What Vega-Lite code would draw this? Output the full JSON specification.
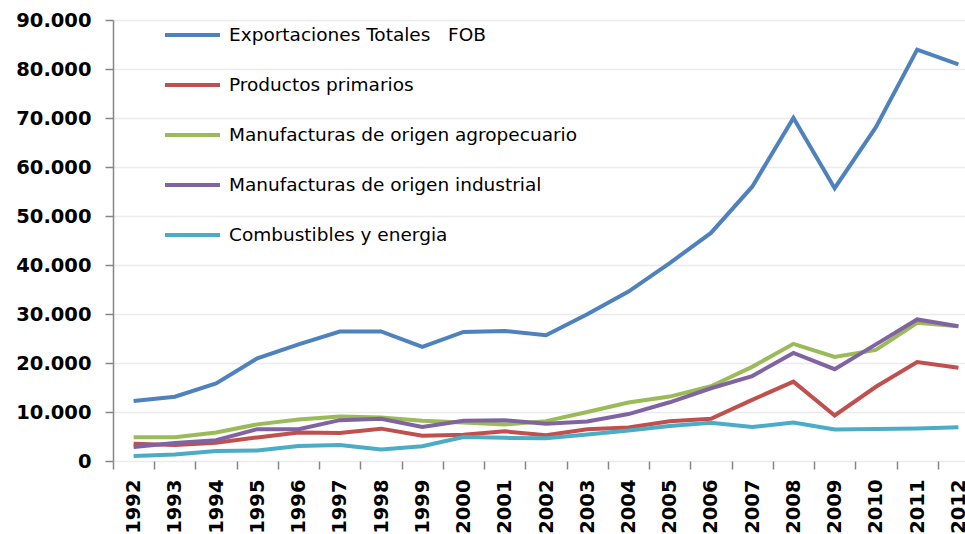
{
  "$schema": "https://vega.github.io/schema/vega-lite/v6.json",
  "autosize": {"type": "none"},
  "padding": {"left": 113, "top": 20, "right": 0, "bottom": 73},
  "width": 852,
  "height": 441,
  "background": "white",
  "config": {"view": {"stroke": null}},
  "data": {"values": [
    {"year": "1992", "serie": "Exportaciones Totales\u00a0\u00a0 FOB", "value": 12235},
    {"year": "1993", "serie": "Exportaciones Totales\u00a0\u00a0 FOB", "value": 13118},
    {"year": "1994", "serie": "Exportaciones Totales\u00a0\u00a0 FOB", "value": 15839},
    {"year": "1995", "serie": "Exportaciones Totales\u00a0\u00a0 FOB", "value": 20963},
    {"year": "1996", "serie": "Exportaciones Totales\u00a0\u00a0 FOB", "value": 23811},
    {"year": "1997", "serie": "Exportaciones Totales\u00a0\u00a0 FOB", "value": 26431},
    {"year": "1998", "serie": "Exportaciones Totales\u00a0\u00a0 FOB", "value": 26434},
    {"year": "1999", "serie": "Exportaciones Totales\u00a0\u00a0 FOB", "value": 23309},
    {"year": "2000", "serie": "Exportaciones Totales\u00a0\u00a0 FOB", "value": 26341},
    {"year": "2001", "serie": "Exportaciones Totales\u00a0\u00a0 FOB", "value": 26543},
    {"year": "2002", "serie": "Exportaciones Totales\u00a0\u00a0 FOB", "value": 25651},
    {"year": "2003", "serie": "Exportaciones Totales\u00a0\u00a0 FOB", "value": 29939},
    {"year": "2004", "serie": "Exportaciones Totales\u00a0\u00a0 FOB", "value": 34576},
    {"year": "2005", "serie": "Exportaciones Totales\u00a0\u00a0 FOB", "value": 40387},
    {"year": "2006", "serie": "Exportaciones Totales\u00a0\u00a0 FOB", "value": 46546},
    {"year": "2007", "serie": "Exportaciones Totales\u00a0\u00a0 FOB", "value": 55980},
    {"year": "2008", "serie": "Exportaciones Totales\u00a0\u00a0 FOB", "value": 70019},
    {"year": "2009", "serie": "Exportaciones Totales\u00a0\u00a0 FOB", "value": 55672},
    {"year": "2010", "serie": "Exportaciones Totales\u00a0\u00a0 FOB", "value": 68134},
    {"year": "2011", "serie": "Exportaciones Totales\u00a0\u00a0 FOB", "value": 83950},
    {"year": "2012", "serie": "Exportaciones Totales\u00a0\u00a0 FOB", "value": 80927},
    {"year": "1992", "serie": "Productos primarios", "value": 3500},
    {"year": "1993", "serie": "Productos primarios", "value": 3270},
    {"year": "1994", "serie": "Productos primarios", "value": 3740},
    {"year": "1995", "serie": "Productos primarios", "value": 4816},
    {"year": "1996", "serie": "Productos primarios", "value": 5817},
    {"year": "1997", "serie": "Productos primarios", "value": 5704},
    {"year": "1998", "serie": "Productos primarios", "value": 6603},
    {"year": "1999", "serie": "Productos primarios", "value": 5145},
    {"year": "2000", "serie": "Productos primarios", "value": 5346},
    {"year": "2001", "serie": "Productos primarios", "value": 6052},
    {"year": "2002", "serie": "Productos primarios", "value": 5272},
    {"year": "2003", "serie": "Productos primarios", "value": 6471},
    {"year": "2004", "serie": "Productos primarios", "value": 6852},
    {"year": "2005", "serie": "Productos primarios", "value": 8110},
    {"year": "2006", "serie": "Productos primarios", "value": 8625},
    {"year": "2007", "serie": "Productos primarios", "value": 12486},
    {"year": "2008", "serie": "Productos primarios", "value": 16201},
    {"year": "2009", "serie": "Productos primarios", "value": 9286},
    {"year": "2010", "serie": "Productos primarios", "value": 15145},
    {"year": "2011", "serie": "Productos primarios", "value": 20212},
    {"year": "2012", "serie": "Productos primarios", "value": 19050},
    {"year": "1992", "serie": "Manufacturas de origen agropecuario", "value": 4829},
    {"year": "1993", "serie": "Manufacturas de origen agropecuario", "value": 4837},
    {"year": "1994", "serie": "Manufacturas de origen agropecuario", "value": 5806},
    {"year": "1995", "serie": "Manufacturas de origen agropecuario", "value": 7475},
    {"year": "1996", "serie": "Manufacturas de origen agropecuario", "value": 8456},
    {"year": "1997", "serie": "Manufacturas de origen agropecuario", "value": 9104},
    {"year": "1998", "serie": "Manufacturas de origen agropecuario", "value": 8862},
    {"year": "1999", "serie": "Manufacturas de origen agropecuario", "value": 8193},
    {"year": "2000", "serie": "Manufacturas de origen agropecuario", "value": 7864},
    {"year": "2001", "serie": "Manufacturas de origen agropecuario", "value": 7460},
    {"year": "2002", "serie": "Manufacturas de origen agropecuario", "value": 8138},
    {"year": "2003", "serie": "Manufacturas de origen agropecuario", "value": 10004},
    {"year": "2004", "serie": "Manufacturas de origen agropecuario", "value": 11927},
    {"year": "2005", "serie": "Manufacturas de origen agropecuario", "value": 13142},
    {"year": "2006", "serie": "Manufacturas de origen agropecuario", "value": 15265},
    {"year": "2007", "serie": "Manufacturas de origen agropecuario", "value": 19213},
    {"year": "2008", "serie": "Manufacturas de origen agropecuario", "value": 23906},
    {"year": "2009", "serie": "Manufacturas de origen agropecuario", "value": 21226},
    {"year": "2010", "serie": "Manufacturas de origen agropecuario", "value": 22661},
    {"year": "2011", "serie": "Manufacturas de origen agropecuario", "value": 28191},
    {"year": "2012", "serie": "Manufacturas de origen agropecuario", "value": 27474},
    {"year": "1992", "serie": "Manufacturas de origen industrial", "value": 2866},
    {"year": "1993", "serie": "Manufacturas de origen industrial", "value": 3679},
    {"year": "1994", "serie": "Manufacturas de origen industrial", "value": 4230},
    {"year": "1995", "serie": "Manufacturas de origen industrial", "value": 6504},
    {"year": "1996", "serie": "Manufacturas de origen industrial", "value": 6467},
    {"year": "1997", "serie": "Manufacturas de origen industrial", "value": 8335},
    {"year": "1998", "serie": "Manufacturas de origen industrial", "value": 8624},
    {"year": "1999", "serie": "Manufacturas de origen industrial", "value": 6966},
    {"year": "2000", "serie": "Manufacturas de origen industrial", "value": 8230},
    {"year": "2001", "serie": "Manufacturas de origen industrial", "value": 8306},
    {"year": "2002", "serie": "Manufacturas de origen industrial", "value": 7601},
    {"year": "2003", "serie": "Manufacturas de origen industrial", "value": 8047},
    {"year": "2004", "serie": "Manufacturas de origen industrial", "value": 9576},
    {"year": "2005", "serie": "Manufacturas de origen industrial", "value": 11985},
    {"year": "2006", "serie": "Manufacturas de origen industrial", "value": 14843},
    {"year": "2007", "serie": "Manufacturas de origen industrial", "value": 17333},
    {"year": "2008", "serie": "Manufacturas de origen industrial", "value": 22063},
    {"year": "2009", "serie": "Manufacturas de origen industrial", "value": 18734},
    {"year": "2010", "serie": "Manufacturas de origen industrial", "value": 23795},
    {"year": "2011", "serie": "Manufacturas de origen industrial", "value": 28890},
    {"year": "2012", "serie": "Manufacturas de origen industrial", "value": 27520},
    {"year": "1992", "serie": "Combustibles y energia", "value": 1040},
    {"year": "1993", "serie": "Combustibles y energia", "value": 1330},
    {"year": "1994", "serie": "Combustibles y energia", "value": 2063},
    {"year": "1995", "serie": "Combustibles y energia", "value": 2168},
    {"year": "1996", "serie": "Combustibles y energia", "value": 3071},
    {"year": "1997", "serie": "Combustibles y energia", "value": 3288},
    {"year": "1998", "serie": "Combustibles y energia", "value": 2345},
    {"year": "1999", "serie": "Combustibles y energia", "value": 3005},
    {"year": "2000", "serie": "Combustibles y energia", "value": 4902},
    {"year": "2001", "serie": "Combustibles y energia", "value": 4725},
    {"year": "2002", "serie": "Combustibles y energia", "value": 4639},
    {"year": "2003", "serie": "Combustibles y energia", "value": 5417},
    {"year": "2004", "serie": "Combustibles y energia", "value": 6221},
    {"year": "2005", "serie": "Combustibles y energia", "value": 7150},
    {"year": "2006", "serie": "Combustibles y energia", "value": 7813},
    {"year": "2007", "serie": "Combustibles y energia", "value": 6948},
    {"year": "2008", "serie": "Combustibles y energia", "value": 7849},
    {"year": "2009", "serie": "Combustibles y energia", "value": 6426},
    {"year": "2010", "serie": "Combustibles y energia", "value": 6533},
    {"year": "2011", "serie": "Combustibles y energia", "value": 6657},
    {"year": "2012", "serie": "Combustibles y energia", "value": 6883}
  ]},
  "mark": {"type": "line", "strokeWidth": 4, "clip": false},
  "encoding": {
    "x": {
      "field": "year",
      "type": "ordinal",
      "bandPosition": 0.5,
      "scale": {"type": "band", "paddingInner": 0, "paddingOuter": 0, "range": [0, 866]},
      "axis": {
        "title": null,
        "domain": false,
        "grid": false,
        "tickBand": "extent",
        "tickColor": "#868686",
        "tickWidth": 1.5,
        "tickSize": 8,
        "labelAngle": -90,
        "labelAlign": "right",
        "labelBaseline": "middle",
        "labelFont": "DejaVu Sans",
        "labelFontWeight": "bold",
        "labelFontSize": 19.5,
        "labelColor": "#000000",
        "labelPadding": 10,
        "labelOverlap": false
      }
    },
    "y": {
      "field": "value",
      "type": "quantitative",
      "scale": {"domain": [0, 90000], "nice": false},
      "axis": {
        "title": null,
        "values": [0, 10000, 20000, 30000, 40000, 50000, 60000, 70000, 80000, 90000],
        "labelExpr": "replace(format(datum.value, ','), ',', '.')",
        "domainColor": "#868686",
        "domainWidth": 1.5,
        "tickColor": "#868686",
        "tickWidth": 1.5,
        "tickSize": 8,
        "gridColor": "#EBEBEB",
        "gridWidth": 1.5,
        "labelFont": "DejaVu Sans",
        "labelFontWeight": "bold",
        "labelFontSize": 19.5,
        "labelColor": "#000000",
        "labelPadding": 14
      }
    },
    "color": {
      "field": "serie",
      "type": "nominal",
      "scale": {
        "domain": ["Exportaciones Totales\u00a0\u00a0 FOB", "Productos primarios", "Manufacturas de origen agropecuario", "Manufacturas de origen industrial", "Combustibles y energia"],
        "range": ["#4F81BD", "#C0504D", "#9BBB59", "#8064A2", "#4BACC6"]
      },
      "legend": {
        "title": null,
        "orient": "none",
        "legendX": 50,
        "legendY": -10,
        "padding": 0,
        "symbolType": "stroke",
        "symbolSize": 3025,
        "symbolStrokeWidth": 4,
        "clipHeight": 50,
        "rowPadding": 0,
        "labelOffset": 7,
        "labelFont": "DejaVu Sans",
        "labelFontSize": 18.5,
        "labelColor": "#000000",
        "labelLimit": 600
      }
    }
  }
}
